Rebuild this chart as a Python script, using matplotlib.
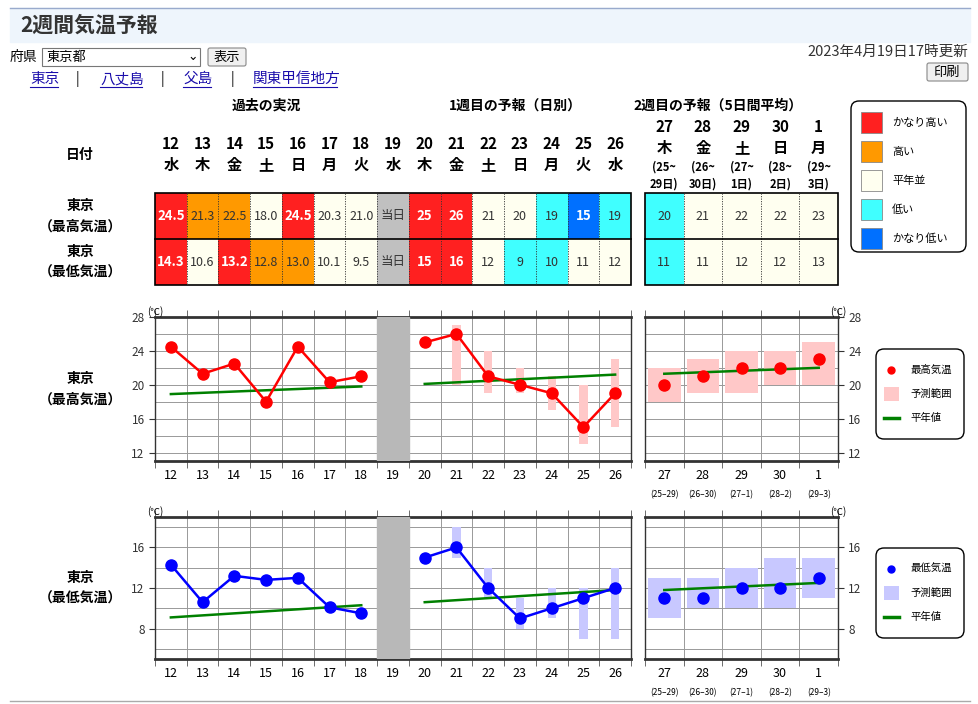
import matplotlib
matplotlib.use("Agg")
import matplotlib.pyplot as plt
from matplotlib.patches import Rectangle, FancyBboxPatch
import numpy as np

plt.rcParams['font.family'] = ['Noto Sans CJK JP', 'DejaVu Sans']

# ---------------- data ----------------
days = [12, 13, 14, 15, 16, 17, 18, 19, 20, 21, 22, 23, 24, 25, 26]
weekdays = ['水', '木', '金', '土', '日', '月', '火', '水', '木', '金', '土', '日', '月', '火', '水']
w2_days = ['27', '28', '29', '30', '1']
w2_wd = ['木', '金', '土', '日', '月']
w2_span1 = ['(25~', '(26~', '(27~', '(28~', '(29~']
w2_span2 = ['29日)', '30日)', '1日)', '2日)', '3日)']
w2_ticklab = ['(25–29)', '(26–30)', '(27–1)', '(28–2)', '(29–3)']

hi_txt = ['24.5', '21.3', '22.5', '18.0', '24.5', '20.3', '21.0', '当日', '25', '26', '21', '20', '19', '15', '19']
hi_cls = [4, 3, 3, 2, 4, 2, 2, -1, 4, 4, 2, 2, 1, 0, 1]
lo_txt = ['14.3', '10.6', '13.2', '12.8', '13.0', '10.1', '9.5', '当日', '15', '16', '12', '9', '10', '11', '12']
lo_cls = [4, 2, 4, 3, 3, 2, 2, -1, 4, 4, 2, 1, 1, 2, 2]
w2_hi_txt = ['20', '21', '22', '22', '23']
w2_hi_cls = [1, 2, 2, 2, 2]
w2_lo_txt = ['11', '11', '12', '12', '13']
w2_lo_cls = [1, 2, 2, 2, 2]

hi_past = [24.5, 21.3, 22.5, 18.0, 24.5, 20.3, 21.0]
hi_fc = [25, 26, 21, 20, 19, 15, 19]
hi_fc_lo = [None, 20, 19, 19, 17, 13, 15]
hi_fc_hi = [None, 27, 24, 22, 21, 20, 23]
hi_norm_past = [18.9, 19.8]
hi_norm_fc = [20.1, 21.2]
hi_w2 = [20, 21, 22, 22, 23]
hi_w2_lo = [18, 19, 19, 20, 20]
hi_w2_hi = [22, 23, 24, 24, 25]
hi_norm_w2 = [21.3, 22.0]

lo_past = [14.3, 10.6, 13.2, 12.8, 13.0, 10.1, 9.5]
lo_fc = [15, 16, 12, 9, 10, 11, 12]
lo_fc_lo = [None, 15, 11, 8, 9, 7, 7]
lo_fc_hi = [None, 18, 14, 11, 12, 12, 14]
lo_norm_past = [9.1, 10.3]
lo_norm_fc = [10.6, 11.8]
lo_w2 = [11, 11, 12, 12, 13]
lo_w2_lo = [9, 10, 10, 10, 11]
lo_w2_hi = [13, 13, 14, 15, 15]
lo_norm_w2 = [11.8, 12.5]

cls_colors = {4: '#ff2020', 3: '#ff9900', 2: '#fffff0', 1: '#40ffff', 0: '#0070ff', -1: '#c0c0c0'}
cls_names = [(4, 'かなり高い'), (3, '高い'), (2, '平年並'), (1, '低い'), (0, 'かなり低い')]

# ---------------- figure ----------------
W, H = 979, 704
fig = plt.figure(figsize=(W / 100, H / 100), dpi=100)
bg = fig.add_axes([0, 0, 1, 1])
bg.set_xlim(0, W); bg.set_ylim(H, 0); bg.axis('off')

# header
bg.add_patch(Rectangle((10, 8), 960, 34, color='#eef5fc'))
bg.plot([10, 970], [8, 8], color='#99aacc', lw=1)
bg.text(20, 25, '2週間気温予報', fontsize=15, va='center', fontweight='bold', color='#333')
bg.text(10, 57, '府県', fontsize=10, va='center')
bg.add_patch(Rectangle((42, 48), 158, 18, fc='white', ec='#777', lw=0.8))
bg.text(46, 57, '東京都', fontsize=9.5, va='center')
bg.text(193, 57, '⌄', fontsize=9, va='center', ha='center')
bg.add_patch(FancyBboxPatch((208, 48), 38, 18, boxstyle='round,pad=0,rounding_size=2', fc='#f0f0f0', ec='#888', lw=0.8))
bg.text(227, 57, '表示', fontsize=9.5, va='center', ha='center')
bg.text(968, 52, '2023年4月19日17時更新', fontsize=10.5, va='center', ha='right', color='#333')
bg.add_patch(FancyBboxPatch((927, 63), 41, 18, boxstyle='round,pad=0,rounding_size=2', fc='#f0f0f0', ec='#888', lw=0.8))
bg.text(947, 72, '印刷', fontsize=9.5, va='center', ha='center')
for x, t in [(30, '東京'), (100, '八丈島'), (183, '父島'), (253, '関東甲信地方')]:
    bg.text(x, 79, t, fontsize=10.5, va='center', color='#1a0dab')
    w = len(t) * 14
    bg.plot([x, x + w], [87, 87], color='#1a0dab', lw=0.8)
for x in [77, 162, 232]:
    bg.text(x, 79, '|', fontsize=10, va='center', ha='center')

# table geometry
tx0, tx1 = 155, 631
cw = (tx1 - tx0) / len(days)
ux0, ux1 = 645, 838
uw = (ux1 - ux0) / len(w2_days)
r0, r1, r2 = 193, 239, 285

bg.text(266, 106, '過去の実況', fontsize=10, ha='center', va='center', fontweight='bold')
bg.text(515, 106, '1週目の予報（日別）', fontsize=10, ha='center', va='center', fontweight='bold')
bg.text(718, 106, '2週目の予報（5日間平均）', fontsize=10, ha='center', va='center', fontweight='bold')
bg.text(80, 155, '日付', fontsize=10, ha='center', va='center', fontweight='bold')
for i, (d, w) in enumerate(zip(days, weekdays)):
    cx = tx0 + cw * (i + 0.5)
    bg.text(cx, 144, str(d), fontsize=11, ha='center', va='center', fontweight='bold')
    bg.text(cx, 165, w, fontsize=11, ha='center', va='center', fontweight='bold')
for i in range(5):
    cx = ux0 + uw * (i + 0.5)
    bg.text(cx, 127, w2_days[i], fontsize=11, ha='center', va='center', fontweight='bold')
    bg.text(cx, 148, w2_wd[i], fontsize=11, ha='center', va='center', fontweight='bold')
    bg.text(cx, 167, w2_span1[i], fontsize=8, ha='center', va='center', fontweight='bold')
    bg.text(cx, 184, w2_span2[i], fontsize=8, ha='center', va='center', fontweight='bold')

bg.text(80, 206, '東京', fontsize=10, ha='center', va='center', fontweight='bold')
bg.text(80, 227, '（最高気温）', fontsize=10, ha='center', va='center', fontweight='bold')
bg.text(80, 252, '東京', fontsize=10, ha='center', va='center', fontweight='bold')
bg.text(80, 273, '（最低気温）', fontsize=10, ha='center', va='center', fontweight='bold')

def cell(x, y, w, h, c, t):
    bg.add_patch(Rectangle((x, y), w, h, fc=cls_colors[c], ec='none'))
    bold = c in (4, 0)
    bg.text(x + w / 2, y + h / 2, t, fontsize=9.5 if bold else 9, ha='center', va='center',
            color='white' if bold else '#333', fontweight='bold' if bold else 'normal')

for i in range(len(days)):
    cell(tx0 + cw * i, r0, cw, r1 - r0, hi_cls[i], hi_txt[i])
    cell(tx0 + cw * i, r1, cw, r2 - r1, lo_cls[i], lo_txt[i])
for i in range(5):
    cell(ux0 + uw * i, r0, uw, r1 - r0, w2_hi_cls[i], w2_hi_txt[i])
    cell(ux0 + uw * i, r1, uw, r2 - r1, w2_lo_cls[i], w2_lo_txt[i])
for a, b, n in [(tx0, tx1, len(days)), (ux0, ux1, 5)]:
    step = (b - a) / n
    for k in range(1, n):
        bg.plot([a + step * k] * 2, [r0, r2], color='#333', lw=0.6, ls=(0, (1.5, 1.5)))
    bg.add_patch(Rectangle((a, r0), b - a, r2 - r0, fc='none', ec='black', lw=1.2))
    bg.plot([a, b], [r1, r1], color='black', lw=1.2)

# class legend
bg.add_patch(FancyBboxPatch((851, 101), 115, 151, boxstyle='round,pad=0,rounding_size=8', fc='white', ec='black', lw=1))
for k, (c, name) in enumerate(cls_names):
    y = 112 + k * 29
    bg.add_patch(Rectangle((861, y), 21, 21, fc=cls_colors[c], ec='#888', lw=0.6))
    bg.text(892, y + 11, name, fontsize=8, va='center')

# ---------------- charts ----------------
def px_axes(x0, y0, x1, y1):
    return fig.add_axes([x0 / W, 1 - y1 / H, (x1 - x0) / W, (y1 - y0) / H])

def style(ax, n, ylim, yt, right=False):
    ax.set_xlim(-0.5, n - 0.5)
    ax.set_ylim(*ylim)
    for y in np.arange(np.ceil(ylim[0] / 2) * 2, ylim[1] + 0.1, 2):
        ax.axhline(y, color='#999', lw=0.7, zorder=0)
    for x in np.arange(0.5, n - 0.5, 1):
        ax.axvline(x, color='#999', lw=0.7, zorder=0)
    ax.set_yticks(yt)
    ax.tick_params(axis='y', labelsize=8.5, length=4, direction='out', colors='#333')
    if right:
        ax.yaxis.tick_right()
    ax.set_xticks(np.arange(-0.5, n, 1), minor=True)
    ax.tick_params(axis='x', which='minor', length=5, top=True, bottom=True, direction='out', color='#555')
    ax.tick_params(axis='x', which='major', length=0, labelsize=9, pad=6)
    for s in ['top', 'bottom']:
        ax.spines[s].set_linewidth(2); ax.spines[s].set_color('#333')
    for s in ['left', 'right']:
        ax.spines[s].set_linewidth(1); ax.spines[s].set_color('#333')

def draw(y0, y1, ylim, yt, past, fc, flo, fhi, npast, nfc, w2, w2lo, w2hi, nw2, col, rcol, title, lab):
    ax = px_axes(tx0, y0, tx1, y1)
    style(ax, len(days), ylim, yt)
    xi = np.arange(len(days))
    ax.set_xticks(xi); ax.set_xticklabels([str(d) for d in days])
    ax.axvspan(6.5, 7.5, color='#b8b8b8', zorder=3)
    for i, (a, b) in enumerate(zip(flo, fhi)):
        if a is not None:
            ax.add_patch(Rectangle((8 + i - 0.13, a), 0.26, b - a, fc=rcol, ec='none', zorder=1))
    ax.plot([0, 6], npast, color='green', lw=1.8, zorder=2)
    ax.plot([8, 14], nfc, color='green', lw=1.8, zorder=2)
    ax.plot(xi[:7], past, color=col, lw=1.8, marker='o', ms=8, zorder=4)
    ax.plot(xi[8:], fc, color=col, lw=1.8, marker='o', ms=8, zorder=4)
    ax.text(-0.5, ylim[1], '(℃)', fontsize=7, ha='center', va='bottom')

    ax2 = px_axes(ux0, y0, ux1, y1)
    style(ax2, 5, ylim, yt, right=True)
    xj = np.arange(5)
    ax2.set_xticks(xj)
    ax2.set_xticklabels(w2_days)
    for i in xj:
        ax2.annotate(w2_ticklab[i], (i, 0), xycoords=('data', 'axes fraction'),
                     xytext=(0, -21), textcoords='offset points', fontsize=6, ha='center', va='top')
        ax2.add_patch(Rectangle((i - 0.42, w2lo[i]), 0.84, w2hi[i] - w2lo[i], fc=rcol, ec='none', zorder=1))
    ax2.plot([0, 4], nw2, color='green', lw=1.8, zorder=2)
    ax2.plot(xj, w2, ls='none', color=col, marker='o', ms=8, zorder=4)
    ax2.text(4.5, ylim[1], '(℃)', fontsize=7, ha='center', va='bottom')

    mid = (y0 + y1) / 2
    bg.text(80, mid - 10, '東京', fontsize=10, ha='center', va='center', fontweight='bold')
    bg.text(80, mid + 11, title, fontsize=10, ha='center', va='center', fontweight='bold')
    # legend
    ly = mid - 40
    bg.add_patch(FancyBboxPatch((876, ly), 88, 90, boxstyle='round,pad=0,rounding_size=8', fc='white', ec='black', lw=1))
    bg.plot([891], [ly + 21], marker='o', ms=5, color=col)
    bg.text(910, ly + 21, lab, fontsize=7.5, va='center')
    bg.add_patch(Rectangle((884, ly + 38), 15, 14, fc=rcol, ec='none'))
    bg.text(910, ly + 45, '予測範囲', fontsize=7.5, va='center')
    bg.plot([884, 899], [ly + 69, ly + 69], color='green', lw=2.5)
    bg.text(910, ly + 69, '平年値', fontsize=7.5, va='center')

draw(317, 461, (11, 28), [12, 16, 20, 24, 28], hi_past, hi_fc, hi_fc_lo, hi_fc_hi, hi_norm_past, hi_norm_fc,
     hi_w2, hi_w2_lo, hi_w2_hi, hi_norm_w2, 'red', '#ffc8c8', '（最高気温）', '最高気温')
draw(517, 659, (5, 19), [8, 12, 16], lo_past, lo_fc, lo_fc_lo, lo_fc_hi, lo_norm_past, lo_norm_fc,
     lo_w2, lo_w2_lo, lo_w2_hi, lo_norm_w2, 'blue', '#c8c8ff', '（最低気温）', '最低気温')

bg.plot([10, 970], [701, 701], color='#aaa', lw=1)

fig.savefig('out.png', dpi=100)
